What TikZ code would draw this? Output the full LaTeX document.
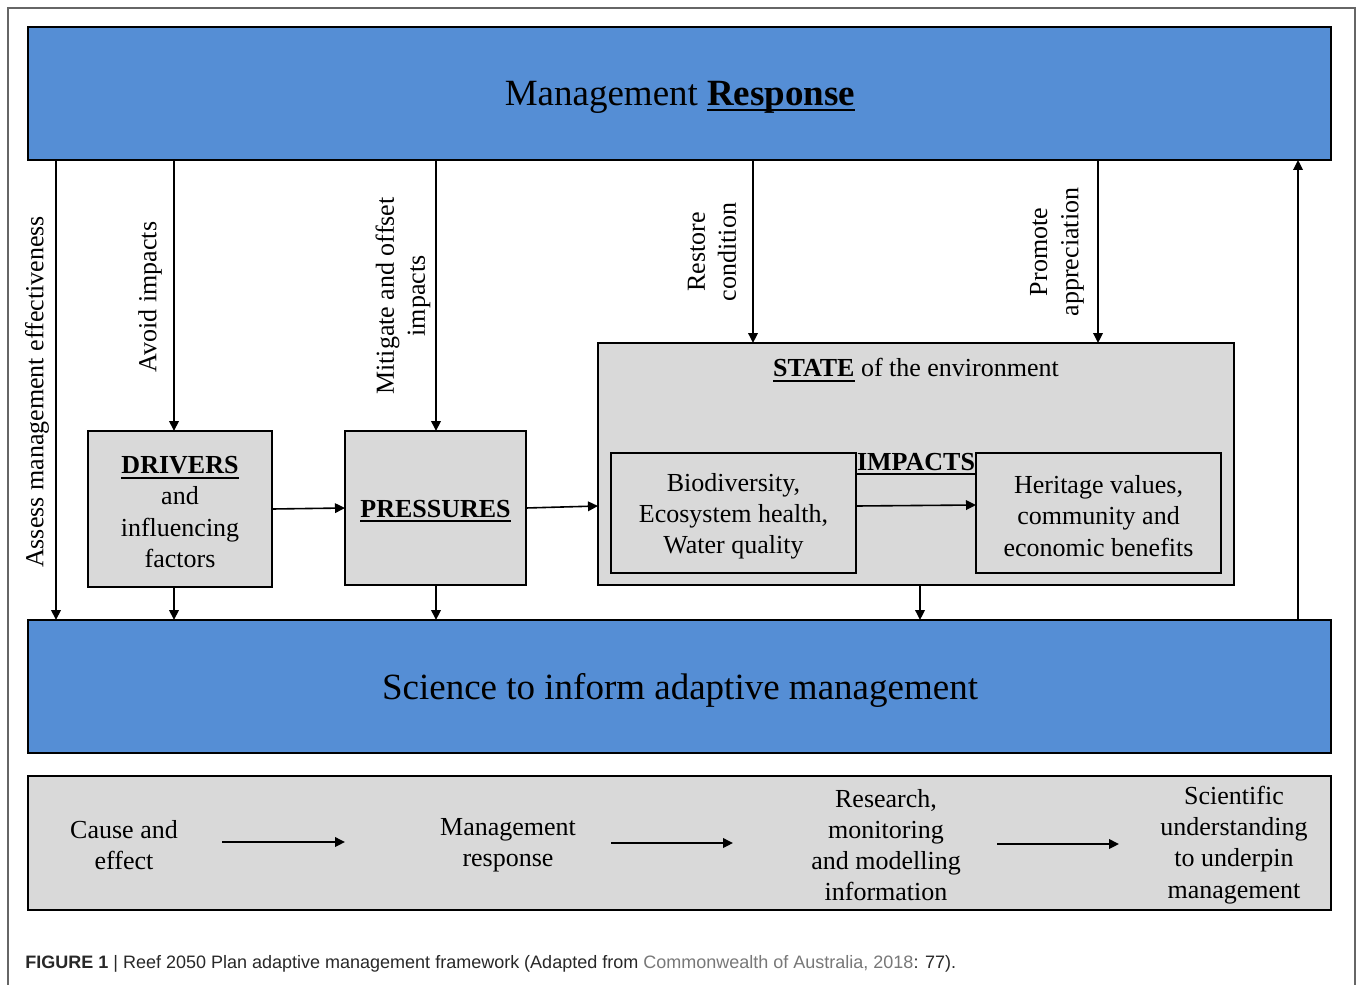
\documentclass[tikz,border=0pt]{standalone}
\usepackage{fontspec}
\setmainfont{Liberation Serif}
\newfontfamily\capfont{Liberation Sans}
\usetikzlibrary{arrows.meta}
\definecolor{mblue}{RGB}{85,142,213}
\definecolor{mgray}{RGB}{217,217,217}
\definecolor{capgray}{RGB}{120,120,120}
\definecolor{captext}{RGB}{40,40,40}
\newcommand{\myul}[2][2.6pt]{\setbox0\hbox{#2}\rlap{\rule[-#1]{\wd0}{1.1pt}}\box0\relax}
\begin{document}
\begin{tikzpicture}[x=0.5pt,y=-0.5pt,
  bluebox/.style={draw=black,line width=1pt,fill=mblue,inner sep=0pt,outer sep=0pt,minimum width=651.5pt,minimum height=66.5pt},
  graybox/.style={draw=black,line width=1pt,fill=mgray,inner sep=0pt,outer sep=0pt},
  big/.style={inner sep=0pt,font=\fontsize{18.5}{22}\selectfont},
  txt/.style={inner sep=0pt,align=center,font=\fontsize{13}{15.6}\selectfont},
  rtxt/.style={txt,rotate=90},
  arr/.style={line width=0.8pt,-{Triangle[length=5pt,width=4.8pt]}}]
\useasboundingbox (0,0) rectangle (1358,984);
\fill[white] (0,0) rectangle (1358,984);
\draw[gray!80!black,line width=0.6pt] (8,1000) -- (8,8) -- (1355,8) -- (1355,1000);
% main boxes
\node[bluebox] (top) at (679.5,93.5) {};
\node[big] (topt) at (680,97) {Management \myul[3pt]{\textbf{Response}}};
\node[bluebox] (sci) at (679.5,686.5) {};
\node[big] (scit) at (680,690) {Science to inform adaptive management};
\node[graybox,minimum width=651.5pt,minimum height=67pt] (legend) at (679.5,843) {};
\node[graybox,minimum width=92pt,minimum height=78pt] (drivers) at (180,509) {};
\node[txt] (driverst) at (180,512) {\myul{\textbf{DRIVERS}}\\and\\influencing\\factors};
\node[graybox,minimum width=90.5pt,minimum height=77pt] (pressures) at (435.5,508) {};
\node[txt] (pressurest) at (435.5,511) {\myul{\textbf{PRESSURES}}};
\node[graybox,minimum width=318pt,minimum height=121pt] (state) at (916,464) {};
\node[txt] (statet) at (916,370) {\myul{\textbf{STATE}} of the environment};
\node[graybox,minimum width=122.5pt,minimum height=60pt] (bio) at (733.5,513) {};
\node[txt] (biot) at (733.5,516) {Biodiversity,\\Ecosystem health,\\Water quality};
\node[graybox,minimum width=122.5pt,minimum height=60pt] (her) at (1098.5,513) {};
\node[txt] (hert) at (1098.5,516) {Heritage values,\\community and\\economic benefits};
\node[txt,anchor=base] (impacts) at (916,470) {\myul{\textbf{IMPACTS}}};
% rotated labels
\node[rtxt] (lassess) at (37,392) {Assess management effectiveness};
\node[rtxt] (lavoid) at (150,297) {Avoid impacts};
\node[rtxt] (lmit) at (403,296) {Mitigate and offset\\impacts};
\node[rtxt] (lrest) at (712,252) {Restore\\condition};
\node[rtxt] (lprom) at (1057,252) {Promote\\appreciation};
% vertical connectors
\draw[arr] (top.south -| 56,0) -- (sci.north -| 56,0);
\draw[arr] (top.south -| 174,0) -- (drivers.north -| 174,0);
\draw[arr] (drivers.south -| 174,0) -- (sci.north -| 174,0);
\draw[arr] (top.south -| 436,0) -- (pressures.north -| 436,0);
\draw[arr] (pressures.south -| 436,0) -- (sci.north -| 436,0);
\draw[arr] (top.south -| 753,0) -- (state.north -| 753,0);
\draw[arr] (top.south -| 1098,0) -- (state.north -| 1098,0);
\draw[arr] (state.south -| 920,0) -- (sci.north -| 920,0);
\draw[arr] (sci.north -| 1298,0) -- (top.south -| 1298,0);
% horizontal connectors
\draw[arr] (drivers.east) -- (pressures.west);
\draw[arr] (pressures.east) -- (state.west |- 0,506);
\draw[arr] (bio.east |- 0,506) -- (her.west |- 0,505);
% legend row
\node[txt] (cause) at (124,845) {Cause and\\effect};
\node[txt] (mresp) at (508,845) {Management\\response};
\node[txt] (resm) at (886,845) {Research,\\monitoring\\and modelling\\information};
\node[txt] (scun) at (1234,845) {Scientific\\understanding\\to underpin\\management};
\coordinate (a1s) at (222,842); \coordinate (a1e) at (345,842);
\coordinate (a2s) at (611,843); \coordinate (a2e) at (733,843);
\coordinate (a3s) at (997,844); \coordinate (a3e) at (1119,844);
\draw[arr] (a1s) -- (a1e);
\draw[arr] (a2s) -- (a2e);
\draw[arr] (a3s) -- (a3e);
% caption
\node[anchor=base west,inner sep=0pt,font=\capfont\fontsize{9}{11}\selectfont,text=captext] (cap) at (25,968)
 {\textbf{FIGURE 1} | Reef 2050 Plan adaptive management framework (Adapted from \textcolor{capgray}{Commonwealth of Australia, 2018}: 77).};
\end{tikzpicture}
\end{document}
